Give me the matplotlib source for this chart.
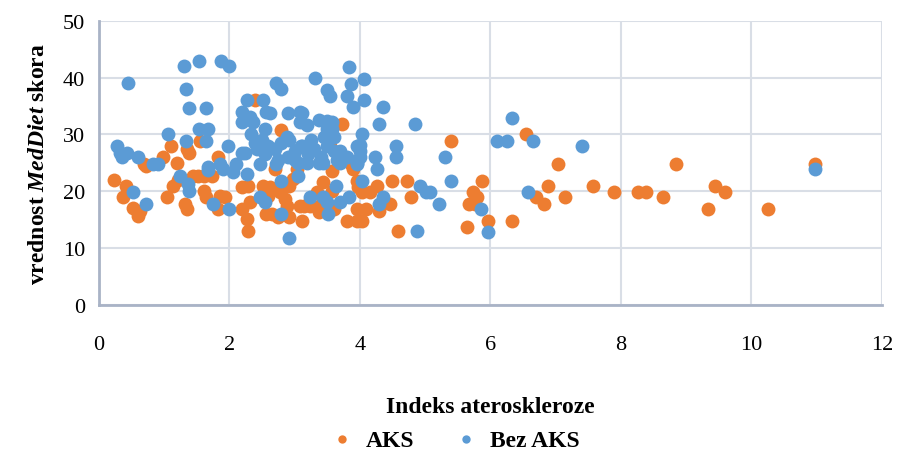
import matplotlib.pyplot as plt

plt.rcParams["font.family"] = ["Liberation Serif", "DejaVu Serif"]
plt.rcParams["mathtext.fontset"] = "custom"
plt.rcParams["mathtext.bfit"] = "Liberation Serif:bold:italic"

# indeks ateroskleroze / MedDiet skor, grupa AKS
aks_x = [0.23, 0.41, 0.37, 0.52, 0.6, 0.63, 0.69, 0.73, 0.98, 1.1, 1.2, 1.35, 1.38, 1.04, 1.13,
         1.21, 1.32, 1.35, 1.44, 1.52, 1.62, 1.73, 1.62, 1.65, 1.82, 1.93, 1.82, 1.55, 1.85, 2.19,
         2.28, 2.31, 2.2, 2.27, 2.28, 2.51, 2.62, 2.51, 2.59, 2.57, 2.66, 2.77, 2.85, 2.88, 2.92,
         2.97, 3.03, 2.7, 2.74, 2.92, 3.08, 3.15, 3.23, 3.12, 3.34, 3.43, 3.38, 3.54, 3.61, 3.58,
         3.58, 3.95, 3.97, 4.04, 4.15, 4.26, 4.49, 4.72, 4.79, 3.81, 3.95, 4.04, 3.95, 4.1, 4.3,
         4.46, 4.58, 3.38, 3.51, 3.89, 3.87, 2.39, 2.79, 3.73, 3.55, 5.39, 6.54, 7.04, 5.88, 5.73,
         5.79, 5.68, 5.76, 5.64, 5.97, 6.34, 6.7, 6.83, 6.89, 7.15, 7.58, 7.89, 8.27, 8.39, 8.64,
         8.85, 9.34, 9.45, 9.6, 10.26, 10.98]
aks_y = [22, 21, 19, 17, 15.6, 16.5, 24.7, 24.4, 26, 28, 25, 27.5, 26.7, 19, 21,
         22, 17.7, 16.8, 22.6, 22.6, 22.6, 22.6, 20, 19, 26, 19, 16.8, 28.8, 19.1, 20.7,
         20.9, 18.1, 16.8, 15.1, 13, 21, 20.7, 19.1, 19.1, 16, 16, 19.8, 18.6, 17.4, 21,
         22.1, 23.9, 23.9, 15.4, 15.4, 17.4, 17.4, 17.4, 14.7, 19.8, 21.6, 17.4, 16.8, 16.8, 20,
         23.5, 21.8, 20.7, 19.8, 19.8, 21, 21.8, 21.8, 18.9, 14.7, 14.7, 14.7, 16.8, 16.8, 16.5,
         17.7, 13, 16.3, 16.3, 23.9, 24.7, 36, 30.8, 31.9, 28, 28.8, 30, 24.7, 21.8, 19.8,
         18.9, 17.7, 17.7, 13.7, 14.7, 14.7, 18.9, 17.7, 21, 18.9, 21, 19.8, 19.8, 19.8, 18.9,
         24.7, 16.8, 21, 19.8, 16.8, 24.7]

# grupa bez AKS
bez_x = [0.45, 1.3, 1.53, 1.88, 1.99, 1.33, 1.39, 1.64, 1.53, 1.67, 1.06, 1.33, 1.64, 0.28, 0.32,
         0.43, 0.35, 0.6, 1.98, 2.2, 2.27, 2.51, 2.72, 2.79, 2.2, 2.31, 2.19, 2.36, 2.57, 2.62,
         2.54, 2.34, 0.83, 0.9, 1.67, 0.52, 0.73, 1.24, 1.36, 1.39, 1.67, 1.75, 2.0, 1.9, 2.05,
         3.32, 3.5, 3.54, 2.9, 3.08, 3.12, 3.08, 3.19, 3.38, 3.49, 3.58, 2.88, 2.92, 3.12, 2.24,
         2.42, 3.84, 4.06, 3.87, 3.81, 3.89, 4.07, 4.36, 4.3, 4.85, 4.04, 3.58, 3.49, 3.61, 4.0,
         4.0, 4.56, 4.56, 4.24, 5.3, 6.34, 6.11, 6.25, 6.66, 7.41, 5.39, 5.07, 5.22, 6.58, 5.85,
         5.97, 10.98, 2.47, 2.54, 2.8, 3.05, 2.8, 3.23, 3.43, 3.49, 3.51, 2.92, 1.85, 2.11, 2.27,
         2.47, 2.72, 3.05, 3.19, 3.38, 4.88, 4.92, 5.02, 4.35, 4.3, 4.04, 3.64, 3.84, 3.69, 4.27,
         3.43, 3.69, 3.95, 3.95, 4.0, 3.95, 2.5, 2.6, 2.7, 2.8, 2.9, 3.0, 3.1, 3.2, 3.3,
         3.4, 3.5, 3.6, 2.4, 2.55, 2.75, 3.0, 3.25, 3.45, 3.65, 3.7, 3.8]
bez_y = [39, 42, 43, 43, 42, 38, 34.7, 34.7, 31, 31, 30, 28.8, 28.8, 28, 26.8,
         26.8, 26, 26, 28, 26.8, 36, 36, 39, 38, 34, 33, 32.1, 32.1, 34, 33.8,
         31, 30, 24.7, 24.7, 24.2, 19.8, 17.7, 22.6, 21.2, 20, 23.7, 17.7, 16.8, 23.9, 23.3,
         40, 37.9, 36.7, 33.8, 34, 33.8, 32.1, 31.7, 32.6, 32.3, 32.1, 29.6, 29.1, 27.9, 26.8,
         27.4, 41.9, 39.8, 38.9, 36.8, 34.9, 36, 34.9, 31.9, 31.9, 30, 30.9, 30.9, 29.6, 28.2,
         27, 27.9, 26.1, 26.1, 26, 32.8, 28.8, 28.8, 28.8, 27.9, 21.8, 19.8, 17.7, 19.8, 16.8,
         12.8, 23.9, 18.9, 18.1, 21.8, 22.6, 16, 18.9, 18.9, 18.1, 16, 11.8, 24.7, 24.7, 23,
         24.7, 24.7, 25, 25, 25, 13, 21, 19.8, 18.9, 17.7, 21.8, 21, 18.9, 18.1, 23.9,
         25, 25, 25, 27.9, 26.1, 24.7, 29, 28, 27.5, 28.5, 26, 27, 28, 26.5, 27.5,
         26, 28, 27, 28.5, 26.5, 25.5, 25.5, 29, 29.5, 25.5, 27, 26]

fig = plt.figure(figsize=(8.98, 4.64), dpi=100)
ax = fig.add_axes([0.110, 0.341, 0.872, 0.612])

ax.scatter(aks_x, aks_y, s=100, color="#ED7D31", linewidths=0, label="AKS", zorder=3)
ax.scatter(bez_x, bez_y, s=100, color="#5B9BD5", linewidths=0, label="Bez AKS", zorder=4)

ax.set_xlim(0, 12)
ax.set_ylim(0, 50)
ax.set_xticks(range(0, 13, 2))
ax.set_yticks(range(0, 51, 10))
ax.grid(color="#D9DEE6", linewidth=1.5)
ax.set_axisbelow(True)
for side in ["top", "right"]:
    ax.spines[side].set_visible(False)
for side in ["left", "bottom"]:
    ax.spines[side].set_color("#A9B3C6")
    ax.spines[side].set_linewidth(2)
ax.tick_params(length=0, labelsize=16)
ax.tick_params(axis="x", pad=22)
ax.tick_params(axis="y", pad=10)

ax.set_xlabel("Indeks ateroskleroze", fontsize=17, fontweight="bold", labelpad=30)
ax.set_ylabel(r"vrednost $\mathbfit{MedDiet}$ skora", fontsize=17, fontweight="bold", labelpad=10)

fig.legend(loc="center", bbox_to_anchor=(0.5, 0.05), ncol=2, frameon=False,
           prop={"size": 17, "weight": "bold"}, markerscale=0.6,
           handletextpad=0.0, columnspacing=1.2)

fig.savefig("out.png", dpi=100)
